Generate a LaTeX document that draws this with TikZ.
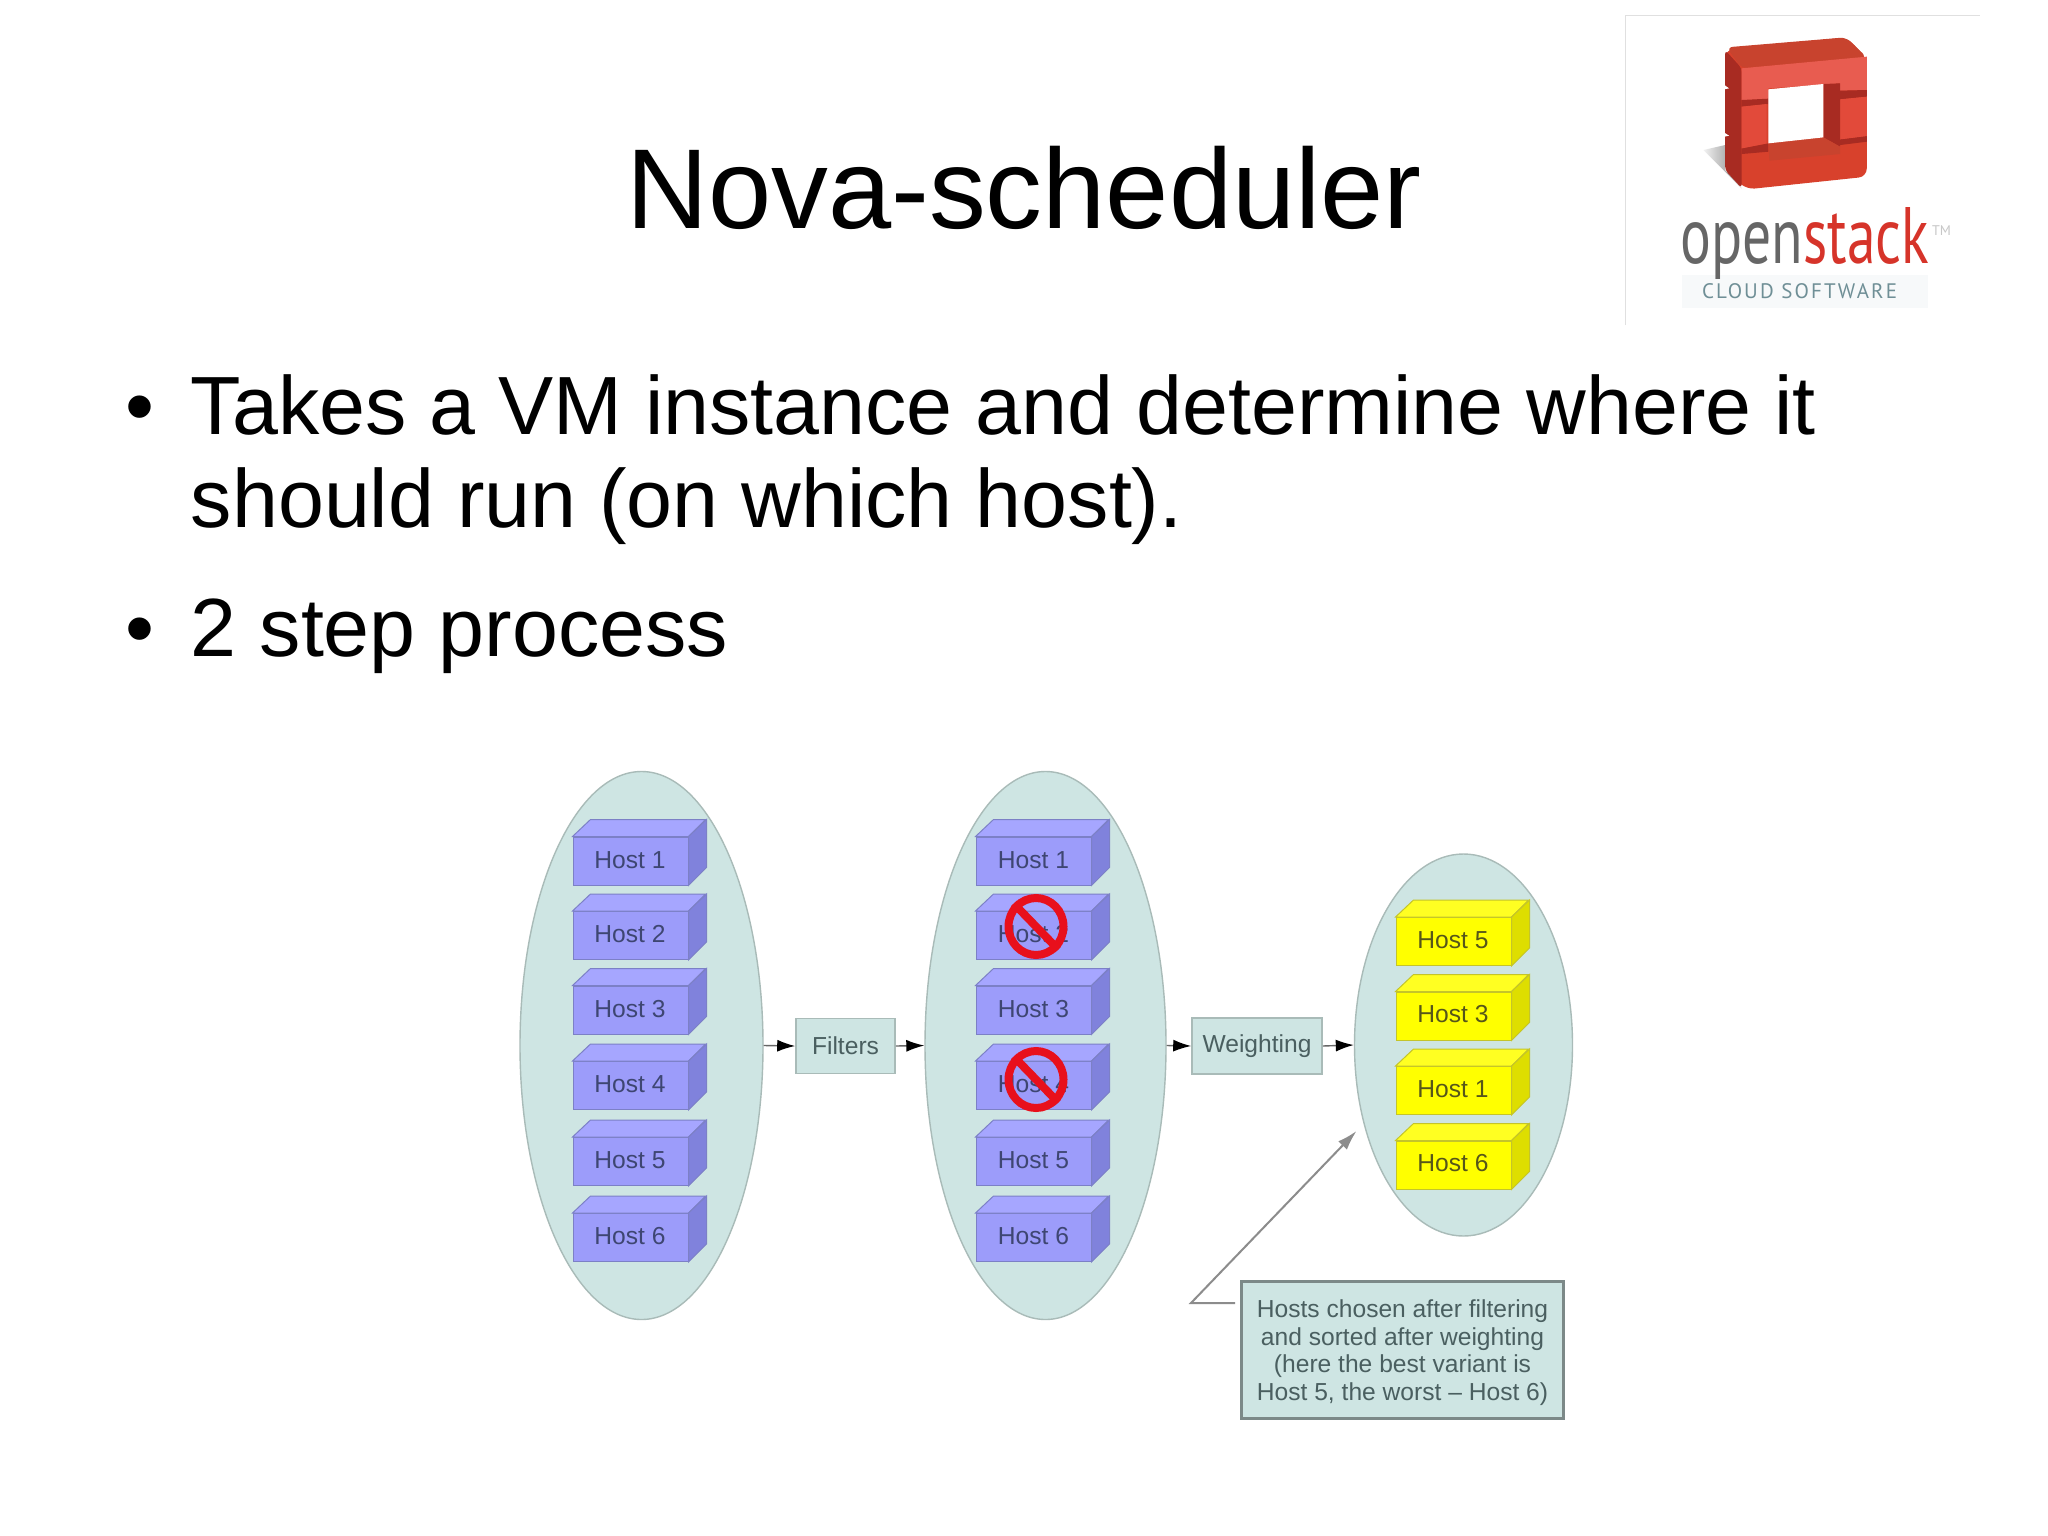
\documentclass[tikz,border=0pt]{standalone}
\usepackage{fontspec}
\setmainfont{Liberation Sans}
\newfontfamily\logofont{PT Sans}
\newfontfamily\cloudfont[LetterSpace=10]{PT Sans}
\usetikzlibrary{shapes.geometric,arrows.meta}
\definecolor{pale}{HTML}{CEE5E3}
\definecolor{paleline}{HTML}{A9BBB8}
\definecolor{hfront}{HTML}{9C9CFA}
\definecolor{htop}{HTML}{A6A6FF}
\definecolor{hside}{HTML}{8082DC}
\definecolor{hline}{HTML}{7C80C6}
\definecolor{htext}{HTML}{3E4672}
\definecolor{yfront}{HTML}{FFFF00}
\definecolor{ytop}{HTML}{FFFF22}
\definecolor{yside}{HTML}{DEDE00}
\definecolor{yline}{HTML}{C4C42A}
\definecolor{ytext}{HTML}{56561A}
\definecolor{boxtext}{HTML}{4A5F60}
\definecolor{logored}{HTML}{D8412C}
\definecolor{logodark}{HTML}{A82B22}
\definecolor{logotop}{HTML}{C8432E}
\definecolor{logolight}{HTML}{E85C50}
\definecolor{logomid}{HTML}{E24A3A}
\definecolor{logostrip}{HTML}{F7F9FA}
\definecolor{logostack}{HTML}{D6342A}
\definecolor{logocloud}{HTML}{6F8F96}
\definecolor{banred}{HTML}{E8101C}
\tikzset{
  x=0.5pt,y=-0.5pt,
  cloud/.style={ellipse,draw=paleline,fill=pale,line width=0.7pt,inner sep=0pt},
  pbox/.style={rectangle,draw=paleline,fill=pale,line width=0.8pt,inner sep=0pt,text=boxtext,font=\fontsize{12.3}{14}\selectfont},
  flow/.style={draw=black!60,line width=0.7pt,-{Latex[length=9pt,width=6pt,black]}},
  front/.style={rectangle,anchor=north west,inner sep=0pt,minimum width=57.5pt,minimum height=24pt,draw=#1line,fill=#1front,line width=0.5pt},
  hosttxt/.style={inner sep=0pt,text=#1text,font=\fontsize{12.3}{14}\selectfont},
  ban/.style={ellipse,draw=banred,line width=4pt,inner sep=0pt,minimum width=27.5pt,minimum height=28.5pt},
  slidetxt/.style={inner sep=0pt,anchor=base west,font=\fontsize{41.3}{48}\selectfont},
}
\newcommand{\hostblock}[7]{% name, x, back-top y, label, prefix, label x, label y
  \node[front=#5] (#1) at (#2,#3+17) {};
  \path[draw=#5line,fill=#5top,line width=0.5pt] (#1.north west) -- ++(18,-17) -- ++(115,0) -- (#1.north east) -- cycle;
  \path[draw=#5line,fill=#5side,line width=0.5pt] (#1.north east) -- ++(18,-17) -- ++(0,48) -- (#1.south east) -- cycle;
  \node[hosttxt=#5] (#1t) at (#6,#7) {#4};
}
\begin{document}
\begin{tikzpicture}
\useasboundingbox (0,0) rectangle (2048,1535);
\fill[white] (0,0) rectangle (2048,1535);
% title and bullets
\node[inner sep=0pt,anchor=base,font=\fontsize{56.8}{60}\selectfont] (title) at (1024,229) {Nova-scheduler};
\node[slidetxt] (b1) at (125,434) {•};
\node[slidetxt] (l1) at (190.5,434) {Takes a VM instance and determine where it};
\node[slidetxt] (l2) at (190.5,527) {should run (on which host).};
\node[slidetxt] (b2) at (125,656) {•};
\node[slidetxt] (l3) at (190.5,656) {2 step process};
% logo
\begin{scope}[shift={(1600,0)},x=0.1667pt,y=-0.1667pt]
  \draw[black!12,line width=0.5pt] (76,975) -- (76,46) -- (1140,46);
  \shade[left color=black!5,right color=black!50] (310,450) -- (375,435) -- (375,510) -- (425,565) -- cycle;
  \fill[logored,rounded corners=4pt] (375,150) -- (740,112) -- (800,175) -- (800,530) -- (440,568) -- (375,510) -- cycle;
  \fill[logodark,rounded corners=2pt] (375,150) -- (425,205) -- (425,565) -- (375,510) -- cycle;
  \fill[logotop,rounded corners=3pt] (380,142) -- (738,112) -- (800,172) -- (425,205) -- cycle;
  \fill[logolight] (425,205) -- (800,170) -- (800,270) -- (720,272) -- (720,250) -- (505,265) -- (505,298) -- (425,300) -- cycle;
  % grooves
  \fill[logodark] (425,300) -- (505,296) -- (505,312) -- (425,320) -- cycle;
  \fill[logodark] (720,272) -- (800,270) -- (800,290) -- (720,298) -- cycle;
  \fill[logodark] (425,445) -- (505,430) -- (505,455) -- (425,462) -- cycle;
  \fill[logodark] (720,418) -- (800,408) -- (800,425) -- (720,435) -- cycle;
  \fill[logomid] (425,320) -- (500,312) -- (500,430) -- (425,445) -- cycle;
  \fill[logomid] (720,298) -- (800,290) -- (800,408) -- (720,418) -- cycle;
  \fill[logodark] (670,252) -- (720,250) -- (720,440) -- (670,412) -- cycle;
  \fill[logotop] (505,430) -- (670,412) -- (720,440) -- (720,462) -- (508,482) -- cycle;
  \fill[white] (505,268) -- (670,252) -- (670,412) -- (505,430) -- cycle;
  % notches
  \fill[white] (373,255) -- (387,265) -- (373,268) -- cycle;
  \fill[white] (373,398) -- (387,407) -- (373,410) -- cycle;
  \fill[logostrip] (247,825) rectangle (985,925);
  \node[inner sep=0pt,anchor=base west,text=black!60] (wopen) at (240,790) {\logofont\fontsize{40}{40}\selectfont\scalebox{0.72}[1]{open}};
  \node[inner sep=0pt,anchor=base west,text=logostack] (wstack) at (609,790) {\logofont\fontsize{40}{40}\selectfont\scalebox{0.72}[1]{stack}};
  \node[inner sep=0pt,anchor=base west,text=black!22] (wtm) at (995,706) {\logofont\fontsize{7}{8}\selectfont TM};
  \node[inner sep=0pt,anchor=base west,text=logocloud] (wcloud) at (305,895) {\cloudfont\fontsize{10.5}{12}\selectfont CLOUD SOFTWARE};
\end{scope}
% clouds
\node[cloud,minimum width=121.5pt,minimum height=274pt] (c1) at (641.5,1045.5) {};
\node[cloud,minimum width=120.5pt,minimum height=274pt] (c2) at (1045.5,1045.5) {};
\node[cloud,minimum width=109pt,minimum height=191pt] (c3) at (1463.5,1045) {};
% hosts left
\hostblock{a1}{572.5}{819.5}{Host 1}{h}{630}{860}
\hostblock{a2}{572.5}{894}{Host 2}{h}{630}{934.5}
\hostblock{a3}{572.5}{968.5}{Host 3}{h}{630}{1009}
\hostblock{a4}{572.5}{1044}{Host 4}{h}{630}{1084}
\hostblock{a5}{572.5}{1120}{Host 5}{h}{630}{1160.5}
\hostblock{a6}{572.5}{1196}{Host 6}{h}{630}{1236.5}
% hosts middle
\hostblock{m1}{975.5}{819.5}{Host 1}{h}{1033.5}{860}
\hostblock{m2}{975.5}{894}{Host 2}{h}{1033.5}{934.5}
\hostblock{m3}{975.5}{968.5}{Host 3}{h}{1033.5}{1009}
\hostblock{m4}{975.5}{1044}{Host 4}{h}{1033.5}{1084}
\hostblock{m5}{975.5}{1120}{Host 5}{h}{1033.5}{1160.5}
\hostblock{m6}{975.5}{1196}{Host 6}{h}{1033.5}{1236.5}
% hosts right
\hostblock{r1}{1395.5}{900}{Host 5}{y}{1453}{940}
\hostblock{r2}{1395.5}{974.5}{Host 3}{y}{1453}{1014}
\hostblock{r3}{1395.5}{1049}{Host 1}{y}{1453}{1089}
\hostblock{r4}{1395.5}{1123.5}{Host 6}{y}{1453}{1163}
% bans
\foreach \n/\yy in {ban1/926.5,ban2/1079.5}{
  \node[ban] (\n) at (1036,\yy) {};
  \draw[banred,line width=4pt] (\n.north west) -- (\n.south east);
}
% process boxes
\node[pbox,minimum width=49.5pt,minimum height=27.5pt] (filters) at (845.5,1046) {Filters};
\node[pbox,minimum width=65pt,minimum height=28pt] (weight) at (1257,1046) {Weighting};
\draw[flow] (c1.east) -- (filters.west);
\draw[flow] (filters.east) -- (c2.west);
\draw[flow] (c2.east) -- (weight.west);
\draw[flow] (weight.east) -- (c3.west);
% note
\node[pbox,draw=black!40!pale,line width=1.2pt,minimum width=161pt,minimum height=68.5pt] (note) at (1402.5,1350) {};
\node[inner sep=0pt,text=boxtext,align=center,font=\fontsize{12.3}{13.85}\selectfont] (notetext) at (1402.5,1352.5) {Hosts chosen after filtering\\and sorted after weighting\\(here the best variant is\\Host 5, the worst – Host 6)};
\coordinate (elbow) at (1191,1303);
\coordinate (nstart) at (1235,1303);
\coordinate (ntip) at (1356.5,1131);
\draw[black!45,line width=1pt,-{Latex[length=10pt,width=6pt]}] (nstart) -- (elbow) -- (ntip);
\end{tikzpicture}
\end{document}
